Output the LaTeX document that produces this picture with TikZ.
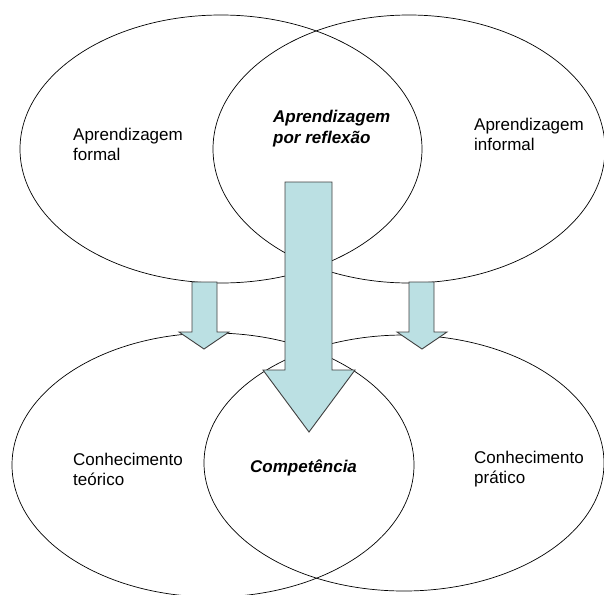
\documentclass[tikz,border=0pt]{standalone}
\usepackage{fontspec}
\setmainfont{Liberation Sans}
\usetikzlibrary{shapes.geometric}
\definecolor{arrowfill}{HTML}{BBE0E3}
\definecolor{arrowline}{HTML}{404040}
\begin{document}
\begin{tikzpicture}[x=1pt,y=-1pt,
  venn/.style={ellipse, draw=black, line width=0.7pt, inner sep=0pt, outer sep=0pt},
  blockarrow/.style={fill=arrowfill, draw=arrowline, line width=0.9pt, line join=miter},
  txt/.style={anchor=base west, inner sep=0pt, align=left, font=\fontsize{17}{20}\selectfont},
  keytxt/.style={txt, font=\fontsize{17}{21}\selectfont\bfseries\itshape}]
\useasboundingbox (0,0) rectangle (604,594);
\clip (0,0) rectangle (604,594);
% ellipses
\node[venn, minimum width=402pt, minimum height=268pt] (formal) at (221,149) {};
\node[venn, minimum width=392pt, minimum height=268pt] (informal) at (409,149) {};
\node[venn, minimum width=402pt, minimum height=264pt] (teorico) at (213,465) {};
\node[venn, minimum width=400pt, minimum height=256pt] (pratico) at (404,463) {};
% block arrows
\draw[blockarrow] (192,282) -- (217,282) -- (217,332) -- (229,332) -- (204,349) -- (179,332) -- (192,332) -- cycle;
\draw[blockarrow] (409,282) -- (434,282) -- (434,332) -- (447,332) -- (422,349) -- (397,332) -- (409,332) -- cycle;
\draw[blockarrow] (285,182) -- (332,182) -- (332,370) -- (355,370) -- (309,432) -- (263,370) -- (285,370) -- cycle;
% labels (base anchor = baseline of last line)
\node[txt] (tformal) at (73,160) {Aprendizagem\\formal};
\node[keytxt] (treflex) at (273,143) {Aprendizagem\\por reflexão};
\node[txt] (tinformal) at (474,150) {Aprendizagem\\informal};
\node[txt] (tteorico) at (73,485) {Conhecimento\\teórico};
\node[keytxt] (tcomp) at (250,472) {Competência};
\node[txt] (tpratico) at (474,483) {Conhecimento\\prático};
\end{tikzpicture}
\end{document}
